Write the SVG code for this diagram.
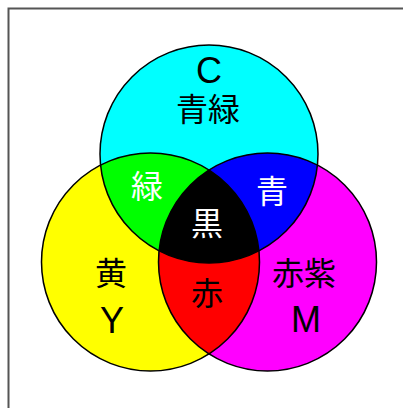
<svg xmlns="http://www.w3.org/2000/svg" width="403" height="408" viewBox="0 0 403 408">
<style>
.cjk{font-family:"Noto Sans CJK JP","Noto Sans CJK SC",sans-serif;font-size:32px;text-anchor:middle}
.lat{font-family:"Liberation Sans",Arial,sans-serif;font-size:36px;text-anchor:middle}
.dark{fill:#000}
.light{fill:#fff}
.ring{fill:none;stroke:#000;stroke-width:1.5}
</style>
<defs>
<clipPath id="clipC"><circle cx="209" cy="154" r="109"/></clipPath>
<clipPath id="clipY"><circle cx="150.5" cy="262" r="109"/></clipPath>
<clipPath id="clipM"><circle cx="267.5" cy="262" r="109"/></clipPath>
</defs>
<rect width="403" height="408" fill="#fff"/>
<path d="M8.5 408 V8.5 H403" fill="none" stroke="#555" stroke-width="2"/>
<g id="cyan"><circle cx="209" cy="154" r="109" fill="#00ffff"/></g>
<g id="yellow"><circle cx="150.5" cy="262" r="109" fill="#ffff00"/></g>
<g id="magenta"><circle cx="267.5" cy="262" r="109" fill="#ff00ff"/></g>
<g id="green" clip-path="url(#clipC)"><circle cx="150.5" cy="262" r="109" fill="#00ff00"/></g>
<g id="blue" clip-path="url(#clipC)"><circle cx="267.5" cy="262" r="109" fill="#0000ff"/></g>
<g id="red" clip-path="url(#clipY)"><circle cx="267.5" cy="262" r="109" fill="#ff0000"/></g>
<g id="black" clip-path="url(#clipC)"><g clip-path="url(#clipY)"><circle cx="267.5" cy="262" r="109" fill="#000"/></g></g>
<g id="outlines">
<circle class="ring" cx="209" cy="154" r="109"/>
<circle class="ring" cx="150.5" cy="262" r="109"/>
<circle class="ring" cx="267.5" cy="262" r="109"/>
</g>
<g id="labels">
<text class="lat dark" x="209" y="83">C</text>
<text class="cjk dark" x="208" y="121">青緑</text>
<text class="cjk light" x="147" y="198">緑</text>
<text class="cjk light" x="272" y="203">青</text>
<text class="cjk light" x="207" y="235">黒</text>
<text class="cjk dark" x="111" y="285">黄</text>
<text class="lat dark" x="112" y="333">Y</text>
<text class="cjk dark" x="207" y="305">赤</text>
<text class="cjk dark" x="304" y="285">赤紫</text>
<text class="lat dark" x="306" y="332">M</text>
</g>
</svg>
